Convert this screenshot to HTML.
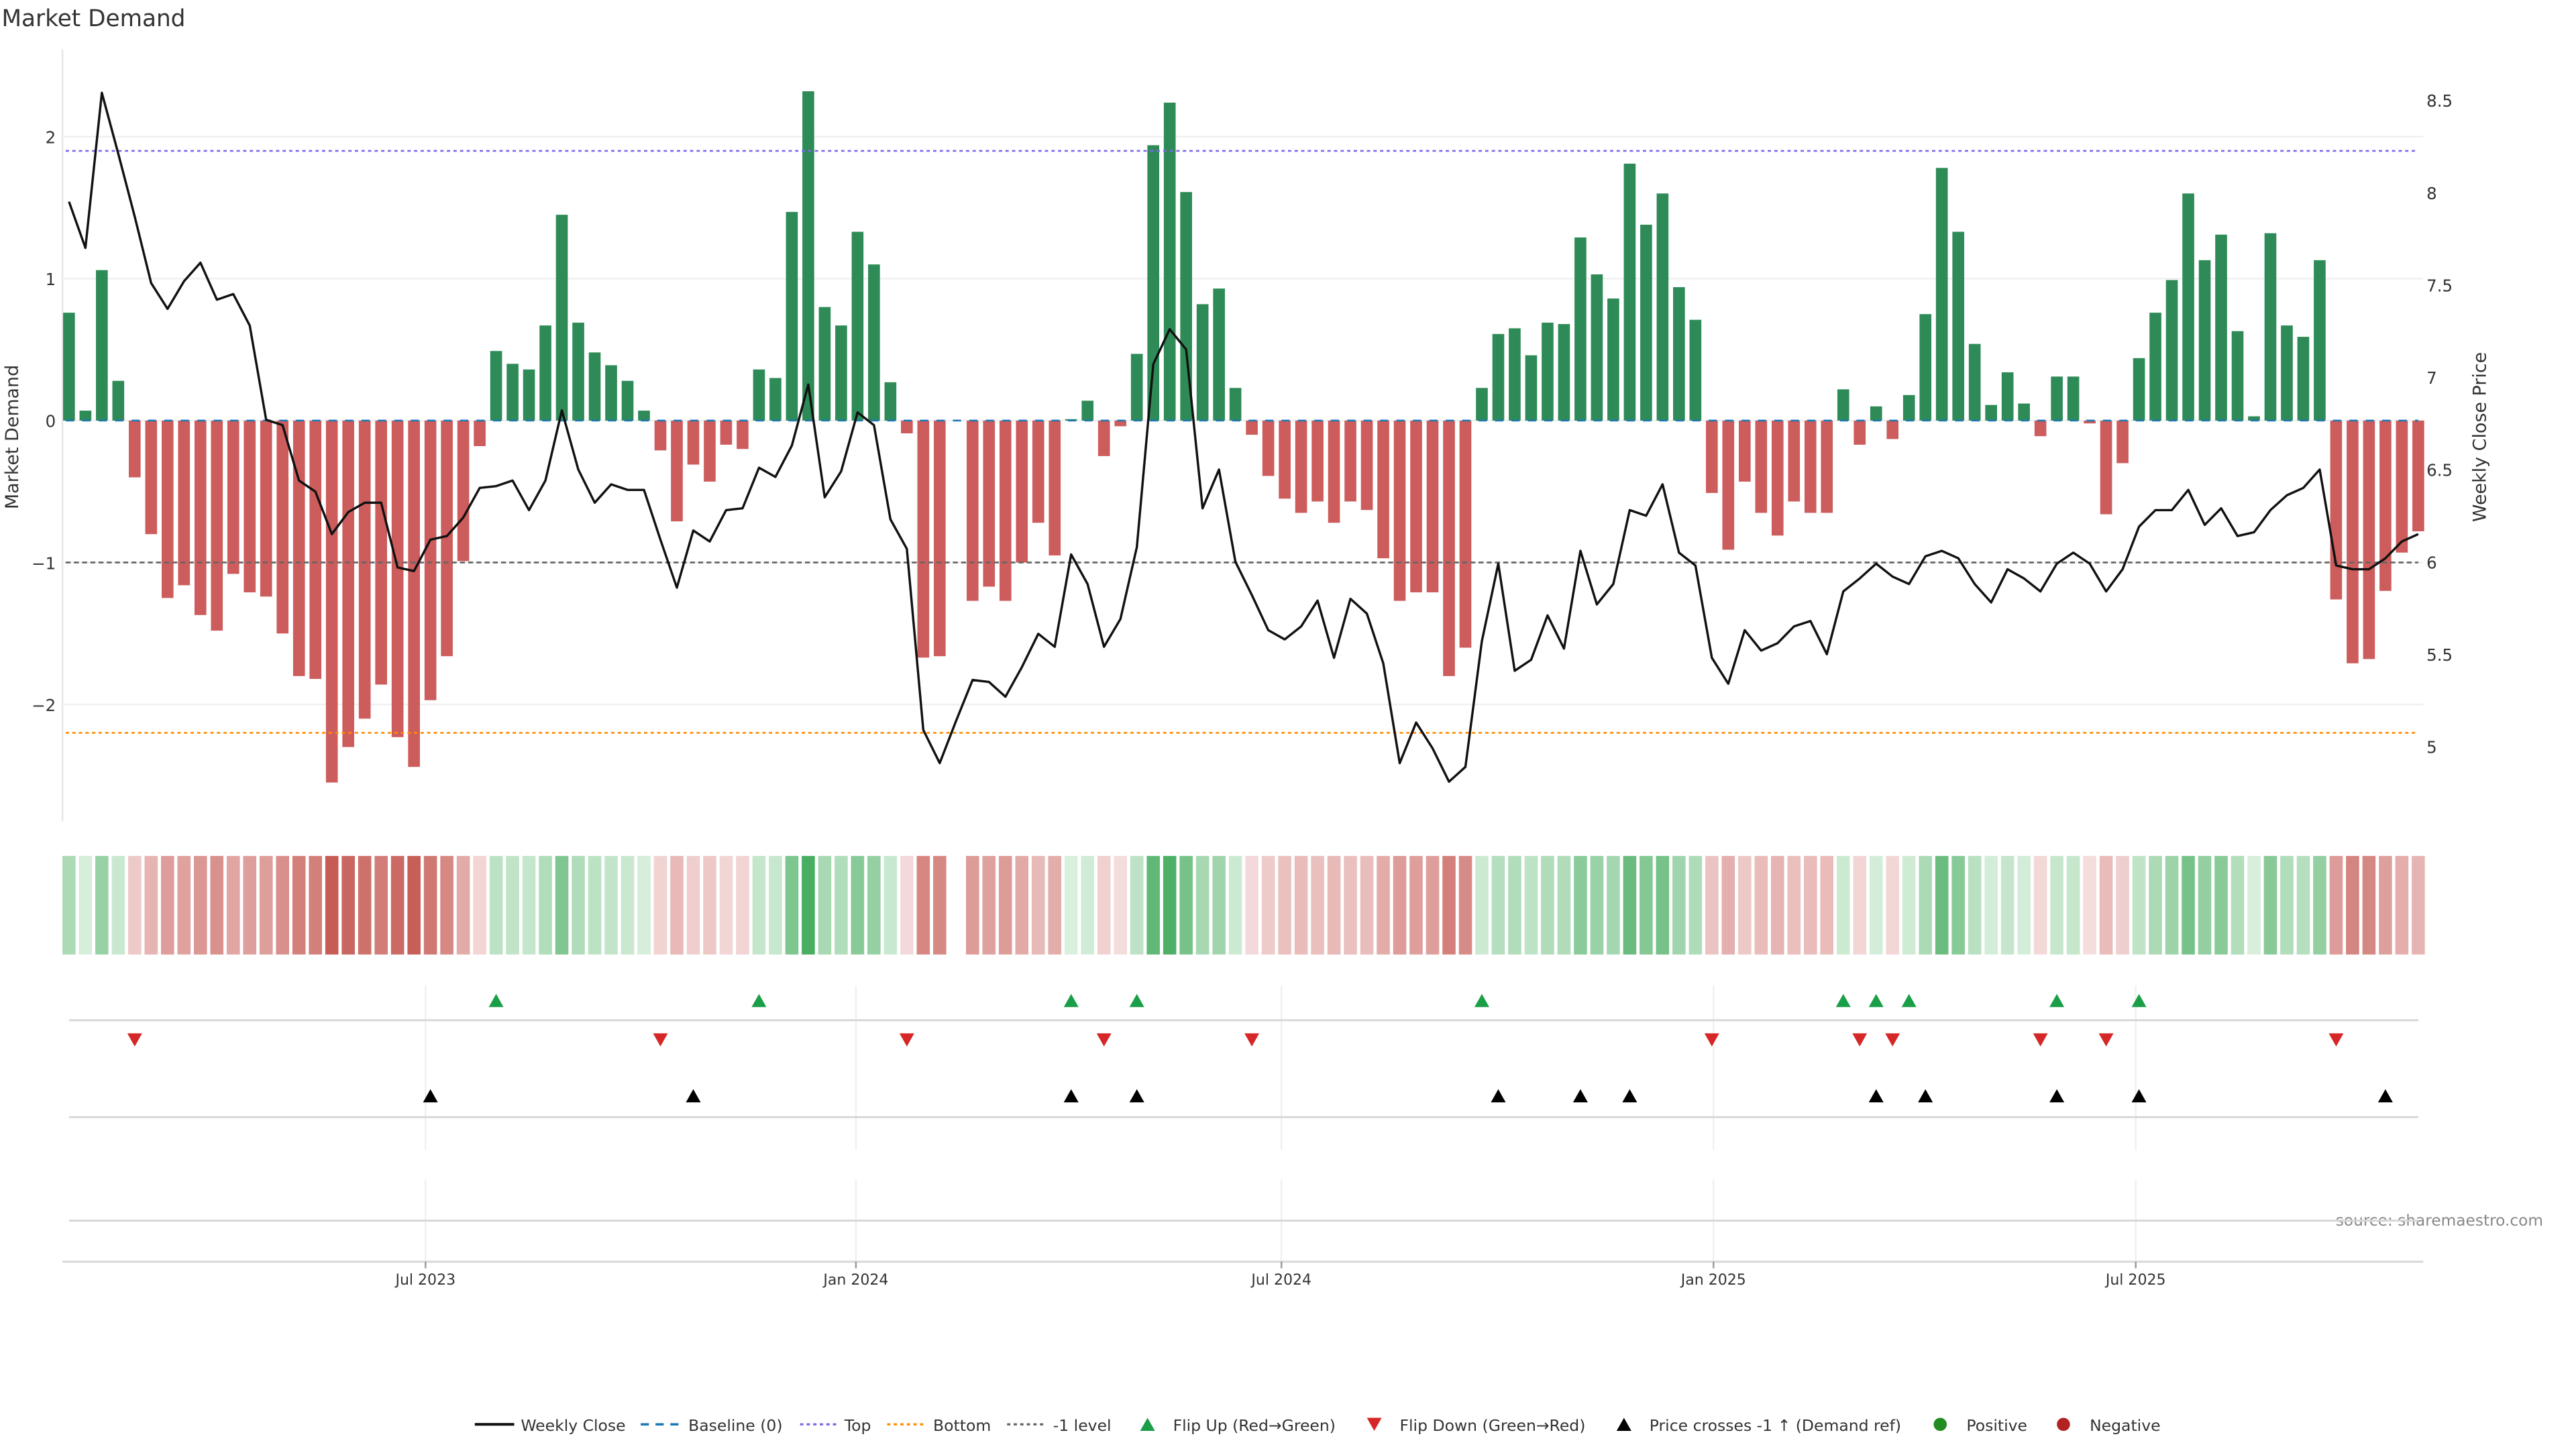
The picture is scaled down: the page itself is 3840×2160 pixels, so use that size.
<!DOCTYPE html>
<html><head><meta charset="utf-8"><style>
html,body{margin:0;padding:0;background:#fff;}
svg{display:block;font-family:"DejaVu Sans","Liberation Sans",sans-serif;}
</style></head><body>
<svg id="chart" width="3840" height="2160" viewBox="0 0 1568 882" preserveAspectRatio="none" xmlns="http://www.w3.org/2000/svg">
<text x="1" y="16" font-size="14" fill="#333">Market Demand</text>
<text transform="translate(11,266) rotate(-90)" text-anchor="middle" font-size="11" fill="#333">Market Demand</text>
<text transform="translate(1513,266) rotate(-90)" text-anchor="middle" font-size="11" fill="#333">Weekly Close Price</text>
<text x="1548" y="746" text-anchor="end" font-size="9.5" fill="#888">source: sharemaestro.com</text>
<g id="grid"></g><g id="bars"></g><g id="refs"></g><g id="line"></g><g id="strip"></g><g id="markers"></g><g id="xaxis"></g><g id="legend"></g>
</svg>
<script>
const demand=[0.76,0.07,1.06,0.28,-0.40,-0.80,-1.25,-1.16,-1.37,-1.48,-1.08,-1.21,-1.24,-1.50,-1.80,-1.82,-2.55,-2.30,-2.10,-1.86,-2.23,-2.44,-1.97,-1.66,-0.99,-0.18,0.49,0.40,0.36,0.67,1.45,0.69,0.48,0.39,0.28,0.07,-0.21,-0.71,-0.31,-0.43,-0.17,-0.20,0.36,0.30,1.47,2.32,0.80,0.67,1.33,1.10,0.27,-0.09,-1.67,-1.66,null,-1.27,-1.17,-1.27,-1.00,-0.72,-0.95,0.01,0.14,-0.25,-0.04,0.47,1.94,2.24,1.61,0.82,0.93,0.23,-0.10,-0.39,-0.55,-0.65,-0.57,-0.72,-0.57,-0.63,-0.97,-1.27,-1.21,-1.21,-1.80,-1.60,0.23,0.61,0.65,0.46,0.69,0.68,1.29,1.03,0.86,1.81,1.38,1.60,0.94,0.71,-0.51,-0.91,-0.43,-0.65,-0.81,-0.57,-0.65,-0.65,0.22,-0.17,0.10,-0.13,0.18,0.75,1.78,1.33,0.54,0.11,0.34,0.12,-0.11,0.31,0.31,-0.02,-0.66,-0.30,0.44,0.76,0.99,1.60,1.13,1.31,0.63,0.03,1.32,0.67,0.59,1.13,-1.26,-1.71,-1.68,-1.20,-0.93,-0.78];
const price=[7.95,7.70,8.54,8.21,7.87,7.51,7.37,7.52,7.62,7.42,7.45,7.28,6.77,6.74,6.44,6.38,6.15,6.27,6.32,6.32,5.97,5.95,6.12,6.14,6.24,6.40,6.41,6.44,6.28,6.44,6.82,6.50,6.32,6.42,6.39,6.39,6.12,5.86,6.17,6.11,6.28,6.29,6.51,6.46,6.63,6.96,6.35,6.49,6.81,6.74,6.23,6.07,5.09,4.91,5.14,5.36,5.35,5.27,5.43,5.61,5.54,6.04,5.88,5.54,5.69,6.08,7.07,7.26,7.15,6.29,6.50,6.00,5.82,5.63,5.58,5.65,5.79,5.48,5.80,5.72,5.45,4.91,5.13,4.99,4.81,4.89,5.57,5.99,5.41,5.47,5.71,5.53,6.06,5.77,5.88,6.28,6.25,6.42,6.05,5.98,5.48,5.34,5.63,5.52,5.56,5.65,5.68,5.50,5.84,5.91,5.99,5.92,5.88,6.03,6.06,6.02,5.88,5.78,5.96,5.91,5.84,5.99,6.05,5.99,5.84,5.96,6.19,6.28,6.28,6.39,6.20,6.29,6.14,6.16,6.28,6.36,6.40,6.50,5.98,5.96,5.96,6.02,6.11,6.15];
const flipUp=[26,42,61,65,86,108,110,112,121,126];
const flipDown=[4,36,51,63,72,100,109,111,120,124,138];
const crossUp=[22,38,61,65,87,92,95,110,113,121,126,141];
const yTicks=[2,1,0,-1,-2];
const y2Ticks=[8.5,8,7.5,7,6.5,6,5.5,5];
const xTickPos=[21.7,47.9,73.8,100.1,125.8];
const xTickLabels=["Jul 2023","Jan 2024","Jul 2024","Jan 2025","Jul 2025"];
const topLevel=1.9, bottomLevel=-2.2, minusLevel=-1;

const NS="http://www.w3.org/2000/svg";
const X0=42, DX=10.0;
function xs(i){return X0+DX*i;}
function ys(v){return 256-v*86.4;}
function yp(p){return 342-(p-6)*112.4;}
function mk(tag,attrs,parent,text){const e=document.createElementNS(NS,tag);for(const k in attrs)e.setAttribute(k,attrs[k]);if(text!==undefined)e.textContent=text;document.getElementById(parent).appendChild(e);return e;}

mk('line',{x1:38,y1:30,x2:38,y2:500,stroke:'#e6e6e6','stroke-width':1},'grid');
yTicks.forEach(t=>{
  const l=mk('line',{x1:38,x2:1475,y1:ys(t),y2:ys(t),stroke:'#f0f0f0','stroke-width':1},'grid');
  
  const tx=mk('text',{x:34,y:ys(t)+4,'text-anchor':'end','font-size':'10',fill:'#333'},'grid',t<0?'\u2212'+Math.abs(t):String(t));
  
});
y2Ticks.forEach(t=>{
  const tx=mk('text',{x:1477,y:yp(t)+4,'font-size':'10',fill:'#333'},'grid',String(t));
  
});

demand.forEach((v,i)=>{
  if(v===null)return;
  const y=Math.min(ys(0),ys(v)),h=Math.abs(ys(v)-ys(0));
  const r=mk('rect',{x:xs(i)-3.6,y:y,width:7.2,height:Math.max(h,0.3),fill:v>=0?'#2e8b57':'#cd5c5c'},'bars');
  
});

function ref(v,col,dash,name){const l=mk('line',{x1:40,x2:1472,y1:ys(v),y2:ys(v),stroke:col,'stroke-width':1.1,'stroke-dasharray':dash},'refs');}
ref(0,'#1f77b4','5,5','baseline-line');
ref(topLevel,'#7b68ee','2,2','top-line');
ref(bottomLevel,'#ff8c00','2,2','bottom-line');
ref(minusLevel,'#666','3,2','minus-one-line');

const pts=price.map((p,i)=>xs(i).toFixed(1)+','+yp(p).toFixed(1)).join(' ');
const pl=mk('polyline',{points:pts,fill:'none',stroke:'#111','stroke-width':1.4,'stroke-linejoin':'round'},'line');


function mix(a,b,t){return 'rgb('+a.map((c,k)=>Math.round(c+(b[k]-c)*t)).join(',')+')';}
demand.forEach((v,i)=>{
  if(v===null)return;
  const t=Math.min(Math.abs(v)/2.5,1);
  const col=v>=0?mix([218,240,222],[62,168,88],t):mix([245,222,222],[198,92,85],t);
  const r=mk('rect',{x:xs(i)-4,y:521,width:8,height:60,fill:col},'strip');
  
});

[[600,700],[718,768]].forEach(s=>xTickPos.forEach(p=>{mk('line',{x1:xs(p),x2:xs(p),y1:s[0],y2:s[1],stroke:'#f0f0f0','stroke-width':1},'markers');}));
[621,680,743].forEach(y=>{const l=mk('line',{x1:42,x2:1472,y1:y,y2:y,stroke:'#d6d6d6','stroke-width':1.2},'markers');});
function tri(x,y,up,col,parent){const d=up?`M${x-4.5},${y+4} L${x},${y-4} L${x+4.5},${y+4} Z`:`M${x-4.5},${y-4} L${x+4.5},${y-4} L${x},${y+4} Z`;return mk('path',{d:d,fill:col},parent);}
flipUp.forEach(i=>{const e=tri(xs(i),609,true,'#1a9e48','markers');});
flipDown.forEach(i=>{const e=tri(xs(i),633,false,'#d62728','markers');});
crossUp.forEach(i=>{const e=tri(xs(i),667,true,'#000','markers');});

mk('line',{x1:38,x2:1475,y1:768,y2:768,stroke:'#d6d6d6','stroke-width':1.2},'xaxis');
xTickPos.forEach((p,k)=>{
  mk('line',{x1:xs(p),x2:xs(p),y1:768,y2:772,stroke:'#999','stroke-width':1},'xaxis');
  const t=mk('text',{x:xs(p),y:782,'text-anchor':'middle','font-size':'9',fill:'#333'},'xaxis',xTickLabels[k]);
  
});

const L=document.getElementById('legend');
function lg(name,sym,tx,label){const g=document.createElementNS(NS,'g');L.appendChild(g);g.innerHTML=sym+`<text x="${tx}" y="871" font-size="9.6" fill="#333">${label}</text>`;}
const ly=867;
lg('legend-weekly-close',`<line x1="289" x2="313" y1="${ly}" y2="${ly}" stroke="#111" stroke-width="1.6"/>`,317,'Weekly Close');
lg('legend-baseline',`<line x1="390" x2="413" y1="${ly}" y2="${ly}" stroke="#1f77b4" stroke-width="1.4" stroke-dasharray="5,4"/>`,419,'Baseline (0)');
lg('legend-top',`<line x1="487" x2="509" y1="${ly}" y2="${ly}" stroke="#7b68ee" stroke-width="1.3" stroke-dasharray="2,2"/>`,514,'Top');
lg('legend-bottom',`<line x1="540" x2="563" y1="${ly}" y2="${ly}" stroke="#ff8c00" stroke-width="1.3" stroke-dasharray="2,2"/>`,568,'Bottom');
lg('legend-minus-one',`<line x1="613" x2="636" y1="${ly}" y2="${ly}" stroke="#666" stroke-width="1.3" stroke-dasharray="2,2"/>`,641,'-1 level');
lg('legend-flip-up',`<path d="M694,871 L698.5,863 L703,871 Z" fill="#1a9e48"/>`,714,'Flip Up (Red\u2192Green)');
lg('legend-flip-down',`<path d="M832,863 L841,863 L836.5,871 Z" fill="#d62728"/>`,852,'Flip Down (Green\u2192Red)');
lg('legend-price-cross',`<path d="M984,871 L988.5,863 L993,871 Z" fill="#000"/>`,1004,'Price crosses -1 \u2191 (Demand ref)');
lg('legend-positive',`<circle cx="1181" cy="${ly}" r="4" fill="#228b22"/>`,1197,'Positive');
lg('legend-negative',`<circle cx="1256" cy="${ly}" r="4" fill="#b22222"/>`,1272,'Negative');
</script>
</body></html>
